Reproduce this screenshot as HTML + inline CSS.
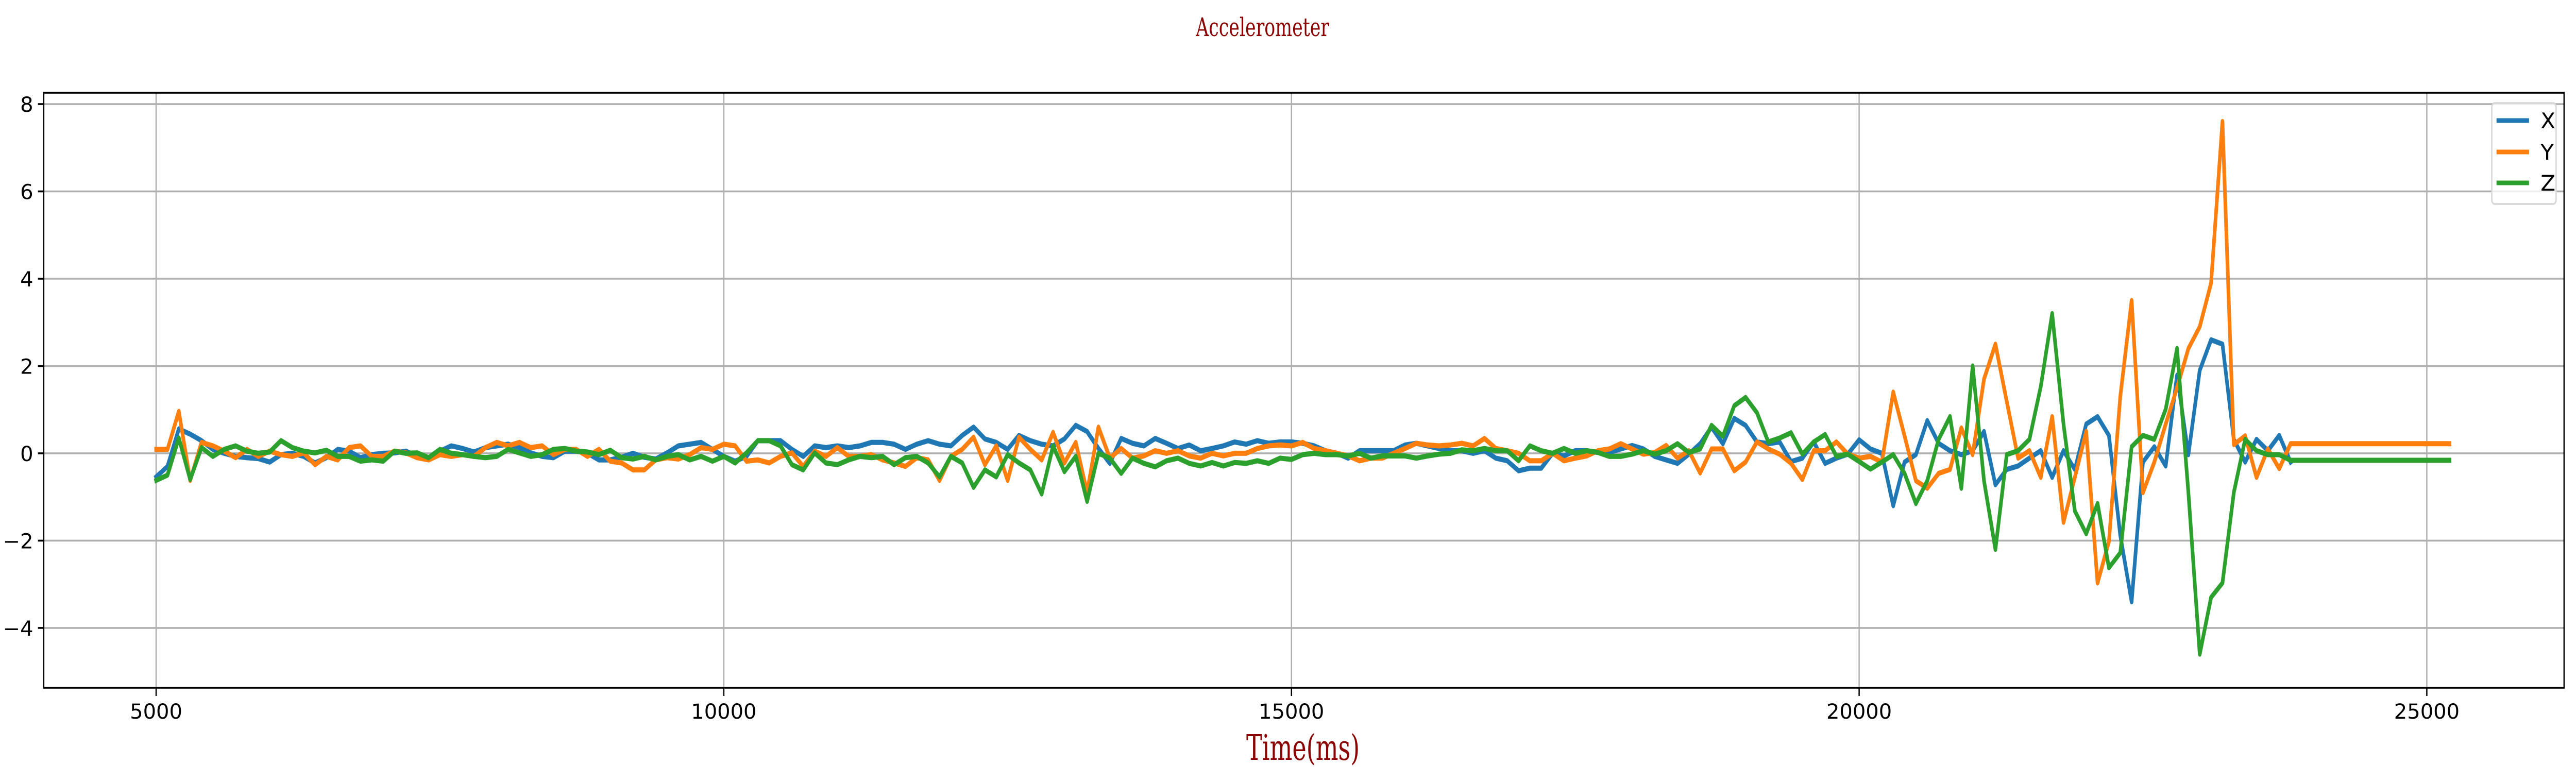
<!DOCTYPE html>
<html><head><meta charset="utf-8"><style>
html,body{margin:0;padding:0;background:#fff;width:100%;height:100%;overflow:hidden;}
svg{display:block;width:100vw;height:100vh;}
</style></head><body>
<svg id="chart" viewBox="0 0 7129 1516" preserveAspectRatio="none" xmlns="http://www.w3.org/2000/svg">
<rect x="0" y="0" width="7129" height="1516" fill="#fff"/>
<text class="fixw" data-len="369" x="3494" y="70" text-anchor="middle" font-family="DejaVu Serif, Liberation Serif, serif" font-size="50" textLength="369" lengthAdjust="spacingAndGlyphs" fill="#8b0000">Accelerometer</text>
<g id="grid"></g>
<g id="series"></g>
<rect x="121" y="180" width="6975" height="1155" fill="none" stroke="#000" stroke-width="3.6"/>
<g id="ticks"></g>
<text class="fixw" data-len="314" x="3606" y="1475" text-anchor="middle" font-family="DejaVu Serif, Liberation Serif, serif" font-size="68" textLength="314" lengthAdjust="spacingAndGlyphs" fill="#8b0000">Time(ms)</text>
<g>
<rect x="6896" y="200" width="178" height="196" rx="8" fill="#fff" fill-opacity="0.8" stroke="#d6d6d6" stroke-width="3.6"/>
<line x1="6909" y1="234" x2="6999" y2="234" stroke="#1f77b4" stroke-width="9"/>
<text class="fixw" x="7031" y="249" font-family="DejaVu Sans, Liberation Sans, sans-serif" font-size="42">X</text>
<line x1="6909" y1="295" x2="6999" y2="295" stroke="#ff7f0e" stroke-width="9"/>
<text class="fixw" x="7031" y="310" font-family="DejaVu Sans, Liberation Sans, sans-serif" font-size="42">Y</text>
<line x1="6909" y1="355" x2="6999" y2="355" stroke="#2ca02c" stroke-width="9"/>
<text class="fixw" x="7031" y="370" font-family="DejaVu Sans, Liberation Sans, sans-serif" font-size="42">Z</text>
</g>
</svg>
<script>
const xTicks = [5000, 10000, 15000, 20000, 25000];
const yTicks = [-4, -2, 0, 2, 4, 6, 8];
const yTickLabels = ["\u22124", "\u22122", "0", "2", "4", "6", "8"];
const seriesX = [-0.54,-0.3,0.56,0.44,0.29,0.09,0,-0.07,-0.1,-0.12,-0.2,-0.03,0,-0.07,-0.22,-0.1,0.09,0.05,-0.1,-0.03,0,0.01,0.05,-0.07,-0.1,0.05,0.17,0.11,0.03,0.13,0.17,0.21,0.13,0.01,-0.07,-0.1,0.05,0.05,0,-0.15,-0.15,
-0.09,0,-0.09,-0.13,0.01,0.17,0.21,0.25,0.09,-0.07,-0.18,-0.07,0.29,0.29,0.29,0.09,-0.07,0.17,0.13,0.17,0.13,0.17,0.25,0.25,0.21,0.09,0.21,0.29,0.21,0.17,0.41,0.6,0.33,0.25,0.09,0.41,0.29,0.21,0.17,0.33,0.64,
0.5,0.11,-0.23,0.34,0.23,0.17,0.34,0.23,0.11,0.19,0.06,0.11,0.17,0.26,0.21,0.29,0.23,0.26,0.26,0.23,0.17,0.06,0,-0.11,0.06,0.06,0.06,0.06,0.19,0.23,0.17,0.11,0.06,0.06,0,0.06,-0.11,-0.17,-0.4,-0.34,-0.34,0,-0.06,0.06,0.06,
0.02,0.02,0.1,0.18,0.1,-0.07,-0.15,-0.23,-0.02,0.22,0.6,0.22,0.8,0.64,0.26,0.22,0.26,-0.19,-0.11,0.26,-0.23,-0.11,-0.02,0.31,0.1,
0,-1.2,-0.2,-0.03,0.75,0.23,0.06,-0.03,0.06,0.5,-0.72,-0.37,-0.29,-0.11,0.06,-0.55,0.06,-0.37,0.67,
0.84,0.41,-1.88,-3.4,-0.2,0.15,-0.29,1.79,-0.03,1.9,2.6,2.5,0.32,-0.2,0.32,0.06,0.41,-0.2,null];
const seriesY = [0.09,0.09,0.96,-0.62,0.25,0.17,0.05,-0.1,0.09,-0.07,0.05,-0.03,-0.07,0.01,-0.26,-0.07,-0.15,0.13,0.17,-0.07,-0.07,0.05,0.01,-0.1,-0.15,-0.03,-0.07,-0.03,-0.07,0.13,0.25,0.17,0.25,0.13,0.17,-0.03,0.09,0.09,-0.07,0.09,-0.18,
-0.22,-0.38,-0.38,-0.15,-0.1,-0.13,-0.03,0.13,0.09,0.21,0.17,-0.18,-0.15,-0.22,-0.07,0.01,-0.3,0.05,-0.07,0.13,-0.07,-0.07,-0.03,-0.15,-0.22,-0.3,-0.1,-0.15,-0.62,-0.07,0.09,0.37,-0.26,0.17,-0.62,0.37,0.09,-0.15,0.48,-0.22,0.25,
-0.9,0.6,-0.11,0.11,-0.11,-0.06,0.06,0,0.06,-0.06,-0.11,0,-0.06,0,0,0.11,0.17,0.19,0.17,0.25,0.11,0.06,0,-0.06,-0.17,-0.11,-0.11,0,0.11,0.23,0.19,0.17,0.19,0.23,0.17,0.34,0.11,0.06,0,-0.17,-0.17,0,-0.17,-0.11,-0.06,
0.06,0.1,0.22,0.1,-0.02,0.02,0.18,-0.11,0.06,-0.45,0.1,0.1,-0.4,-0.2,0.26,0.1,-0.02,-0.23,-0.6,0.06,0.06,0.26,-0.02,-0.11,-0.07,
-0.2,1.4,0.4,-0.63,-0.8,-0.46,-0.37,0.58,-0.03,1.7,2.5,1.19,-0.11,0.06,-0.55,0.84,-1.58,-0.55,0.5,
-2.97,-2.02,1.3,3.5,-0.9,-0.2,0.67,1.5,2.4,2.9,3.9,7.6,0.2,0.4,-0.55,0.1,-0.35,0.22,0.22];
const seriesZ = [-0.62,-0.5,0.35,-0.6,0.13,-0.07,0.09,0.17,0.05,0,0.03,0.29,0.13,0.05,0.01,0.07,-0.07,-0.07,-0.18,-0.15,-0.18,0.05,0,0.01,-0.1,0.09,0,-0.03,-0.07,-0.1,-0.07,0.09,0.01,-0.07,-0.03,0.09,0.11,0.05,0.03,-0.03,0.07,
-0.1,-0.13,-0.07,-0.15,-0.07,-0.03,-0.15,-0.07,-0.18,-0.07,-0.22,0.01,0.29,0.29,0.17,-0.26,-0.38,0.01,-0.22,-0.26,-0.15,-0.07,-0.1,-0.07,-0.26,-0.1,-0.07,-0.22,-0.54,-0.07,-0.22,-0.78,-0.38,-0.54,-0.03,-0.22,-0.38,-0.93,0.17,-0.42,-0.07,
-1.1,0,-0.11,-0.46,-0.11,-0.23,-0.31,-0.17,-0.11,-0.23,-0.29,-0.21,-0.29,-0.21,-0.23,-0.17,-0.23,-0.11,-0.14,-0.03,0,-0.03,-0.03,-0.06,0,-0.11,-0.06,-0.06,-0.06,-0.11,-0.06,-0.02,0,0.08,0.06,0.11,0.06,0.06,-0.17,0.17,0.06,0,0.11,0,0.06,
0.02,-0.07,-0.07,-0.02,0.06,-0.02,0.06,0.22,0.02,0.1,0.64,0.39,1.09,1.28,0.93,0.26,0.35,0.47,-0.02,0.26,0.43,-0.07,-0.02,-0.19,-0.36,
-0.2,-0.03,-0.46,-1.15,-0.63,0.32,0.84,-0.8,2.0,-0.63,-2.2,-0.03,0.06,0.32,1.53,3.2,0.67,-1.32,-1.84,
-1.15,-2.62,-2.28,0.15,0.41,0.32,1.01,2.4,-0.9,-4.6,-3.3,-2.97,-0.9,0.32,0.06,-0.03,-0.03,-0.16,-0.16];
const sampleStart = 5000, sampleStep = 100, finalTime = 25200;
const times = [];
for (let i = 0; i < seriesY.length - 1; i++) times.push(sampleStart + i * sampleStep);
times.push(finalTime);

const NS = "http://www.w3.org/2000/svg";
const L = 121, R = 7096, T = 180, B = 1335;
const xMin = 4010, xMax = 26209, yMin = -5.37, yMax = 8.26;
function xs(v){ return L + (v - xMin) / (xMax - xMin) * (R - L); }
function ys(v){ return B - (v - yMin) / (yMax - yMin) * (B - T); }
function mk(tag, attrs){ const e = document.createElementNS(NS, tag); for (const k in attrs) e.setAttribute(k, attrs[k]); return e; }

const grid = document.getElementById('grid');
const ticks = document.getElementById('ticks');
xTicks.forEach(v => {
  const x = xs(v);
  const g = mk('line', {x1:x, y1:T, x2:x, y2:B, stroke:'#b0b0b0', 'stroke-width':3.6});
  
  
  grid.appendChild(g);
  const t = mk('line', {x1:x, y1:B, x2:x, y2:B+16, stroke:'#000', 'stroke-width':3.6});
  
  
  ticks.appendChild(t);
  const lb = mk('text', {x:x, y:1395, 'text-anchor':'middle', 'font-family':'DejaVu Sans, Liberation Sans, sans-serif', 'font-size':40, fill:'#000', 'class':'fixw'});
  lb.textContent = String(v);
  
  
  ticks.appendChild(lb);
});
yTicks.forEach((v, i) => {
  const y = ys(v);
  const g = mk('line', {x1:L, y1:y, x2:R, y2:y, stroke:'#b0b0b0', 'stroke-width':3.6});
  
  
  grid.appendChild(g);
  const t = mk('line', {x1:L-16, y1:y, x2:L, y2:y, stroke:'#000', 'stroke-width':3.6});
  
  
  ticks.appendChild(t);
  const lb = mk('text', {x:92, y:y+15, 'text-anchor':'end', 'font-family':'DejaVu Sans, Liberation Sans, sans-serif', 'font-size':40, fill:'#000', 'class':'fixw'});
  lb.textContent = yTickLabels[i];
  
  
  ticks.appendChild(lb);
});

const sg = document.getElementById('series');
[[seriesX, '#1f77b4', 'series-x-line'], [seriesY, '#ff7f0e', 'series-y-line'], [seriesZ, '#2ca02c', 'series-z-line']].forEach(s => {
  const pts = [];
  s[0].forEach((v, i) => { if (v !== null) pts.push(xs(times[i]).toFixed(1) + ',' + ys(v).toFixed(1)); });
  const pl = mk('polyline', {points: pts.join(' '), fill:'none', stroke:s[1], 'stroke-width':10, 'stroke-linejoin':'round', 'stroke-linecap':'square'});
  
  
  sg.appendChild(pl);
});

// compensate for non-uniform viewport stretching so text keeps its proportions
function fixText(){
  const w = window.innerWidth || 7129, h = window.innerHeight || 1516;
  const k = (w / 7129) / (h / 1516);
  document.querySelectorAll('text.fixw').forEach(t => {
    const x = parseFloat(t.getAttribute('x'));
    const len = t.getAttribute('data-len');
    if (len) t.setAttribute('textLength', (parseFloat(len) * k).toFixed(1));
    if (Math.abs(k - 1) < 0.01) { t.removeAttribute('transform'); return; }
    t.setAttribute('transform', 'translate(' + x + ',0) scale(' + (1 / k) + ',1) translate(' + (-x) + ',0)');
  });
}
fixText();
window.addEventListener('resize', fixText);
</script>
</body></html>
